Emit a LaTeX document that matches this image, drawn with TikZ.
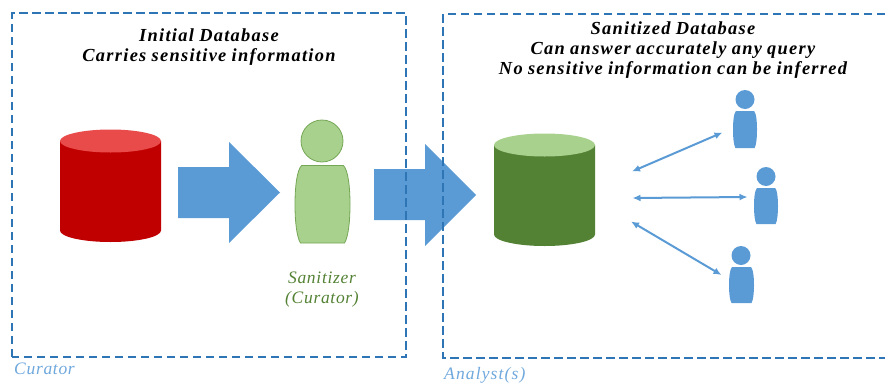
\documentclass[tikz,border=0pt]{standalone}
\usepackage{fontspec}
\setmainfont{Liberation Serif}
\newfontfamily\titlefont[LetterSpace=7,WordSpace=0.9]{Liberation Serif}
\newfontfamily\notefont[LetterSpace=4]{Liberation Serif}
\newfontfamily\analystfont[LetterSpace=6.5]{Liberation Serif}
\definecolor{boxblue}{HTML}{2E75B6}
\definecolor{shapeblue}{HTML}{5B9BD5}
\definecolor{notelblue}{HTML}{6FA8DC}
\definecolor{dbred}{HTML}{C00000}
\definecolor{dbredtop}{HTML}{E94B4B}
\definecolor{dbgreen}{HTML}{548235}
\definecolor{lightgreen}{HTML}{A9D18E}
\definecolor{edgegreen}{HTML}{74A655}
\usetikzlibrary{arrows.meta}
\tikzset{
  dashbox/.style={draw=boxblue,line width=2.4pt,dash pattern=on 8.5pt off 4.5pt},
  blockarrow/.style={fill=shapeblue},
  headtext/.style={font=\titlefont\bfseries\itshape\fontsize{18.4}{20}\selectfont,align=center,text=black,inner sep=0pt},
  sanitext/.style={font=\notefont\itshape\fontsize{17.5}{20}\selectfont,align=center,text=dbgreen,inner sep=0pt},
  roletext/.style={font=\notefont\itshape\fontsize{17.5}{20}\selectfont,text=notelblue,inner sep=0pt,anchor=west},
  link/.style={draw=shapeblue,line width=2pt,{Latex[length=8pt,width=7pt]}-{Latex[length=8pt,width=7pt]}},
  greenbit/.style={fill=lightgreen,draw=edgegreen,line width=0.8pt},
  bluebit/.style={fill=shapeblue},
}
% cylinder: left x, right x, ellipse centre y, side bottom y, ry, body colour, top colour
\newcommand{\dbcyl}[7]{%
  \fill[#6] (#1,#3) -- (#1,#4) arc[start angle=180,end angle=0,x radius={(#2-#1)/2},y radius=#5] -- (#2,#3) -- cycle;
  \fill[#7] ({(#1+#2)/2},#3) ellipse[x radius={(#2-#1)/2},y radius=#5];
}
% person body: left x, right x, top y, bottom y, style
\newcommand{\persbody}[5]{%
  \path[#5] ({#1+0.12*(#2-#1)},#3) -- ({#2-0.12*(#2-#1)},#3)
    .. controls ({#2-0.03*(#2-#1)},{#3+0.06*(#4-#3)}) and (#2,{#3+0.3*(#4-#3)}) .. (#2,{#3+0.5*(#4-#3)})
    .. controls (#2,{#3+0.72*(#4-#3)}) and ({#2-0.03*(#2-#1)},{#3+0.92*(#4-#3)}) .. ({#2-0.1*(#2-#1)},#4)
    -- ({#1+0.1*(#2-#1)},#4)
    .. controls ({#1+0.03*(#2-#1)},{#3+0.92*(#4-#3)}) and (#1,{#3+0.72*(#4-#3)}) .. (#1,{#3+0.5*(#4-#3)})
    .. controls (#1,{#3+0.3*(#4-#3)}) and ({#1+0.03*(#2-#1)},{#3+0.06*(#4-#3)}) .. ({#1+0.12*(#2-#1)},#3) -- cycle;
}
\begin{document}
\begin{tikzpicture}[x=1pt,y=-1pt]
\useasboundingbox (0,0) rectangle (885,383);
% cylinders
\dbcyl{60}{161}{141}{230.5}{11.5}{dbred}{dbredtop}
\dbcyl{494}{595}{145}{234.5}{11.5}{dbgreen}{lightgreen}
% block arrows
\fill[blockarrow] (178,167) -- (229,167) -- (229,142) -- (280,192.5) -- (229,243) -- (229,218) -- (178,218) -- cycle;
\fill[blockarrow] (374,169) -- (425,169) -- (425,144) -- (476,195) -- (425,246) -- (425,220) -- (374,220) -- cycle;
% sanitizer
\node[greenbit,circle,minimum size=42pt,inner sep=0pt] (sanhead) at (322,141) {};
\persbody{295}{350}{165.5}{243}{greenbit}
% analysts
\node[bluebit,circle,minimum size=19pt,inner sep=0pt] (anahead1) at (745,99.5) {};
\persbody{733}{757}{111}{148}{bluebit}
\node[bluebit,circle,minimum size=19pt,inner sep=0pt] (anahead2) at (766,176.5) {};
\persbody{754}{778}{188}{224}{bluebit}
\node[bluebit,circle,minimum size=19pt,inner sep=0pt] (anahead3) at (741,255.5) {};
\persbody{729}{754}{267}{303}{bluebit}
% links
\coordinate (db1) at (632,171.5); \coordinate (an1) at (722.5,132.5);
\coordinate (db2) at (632.5,198); \coordinate (an2) at (747.5,197);
\coordinate (db3) at (631,221.5); \coordinate (an3) at (721.5,275);
\draw[link] (db1) -- (an1);
\draw[link] (db2) -- (an2);
\draw[link] (db3) -- (an3);
% boxes
\draw[dashbox] (12,357) -- (12,13) -- (406,13) -- (406,357) -- cycle;
\draw[dashbox] (885,14) -- (443,14) -- (443,358) -- (885,358);
% texts
\node[headtext] (t1) at (209,47.5) {Initial Database\\Carries sensitive information};
\node[headtext] (t2) at (673,50.5) {Sanitized Database\\Can answer accurately any query\\No sensitive information can be inferred};
\node[sanitext] (t3) at (322,289.5) {Sanitizer\\(Curator)};
\node[roletext] (t4) at (14,369) {Curator};
\node[roletext,font=\analystfont\itshape\fontsize{17.5}{20}\selectfont] (t5) at (444,375) {Analyst(s)};
\end{tikzpicture}
\end{document}
